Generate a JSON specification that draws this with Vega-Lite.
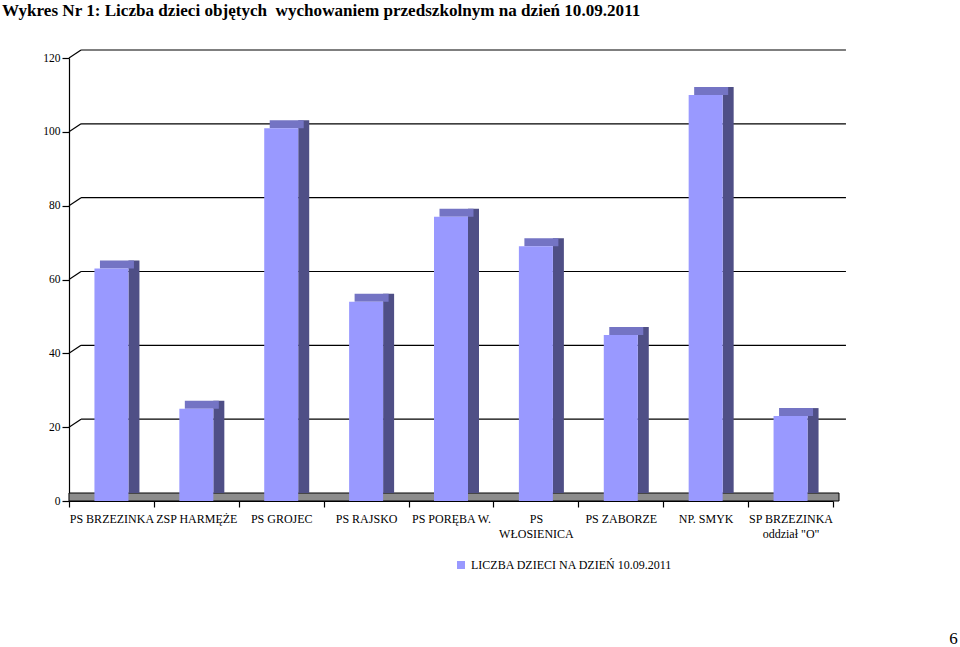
{
  "$schema": "https://vega.github.io/schema/vega-lite/v6.json",
  "width": 764,
  "height": 443,
  "autosize": {"type": "none"},
  "padding": {"left": 69, "top": 58, "right": 127, "bottom": 146},
  "background": "white",
  "config": {
    "font": "Liberation Serif",
    "view": {"stroke": null},
    "axis": {"labelFont": "Liberation Serif", "titleFont": "Liberation Serif", "labelColor": "black", "domainColor": "black", "tickColor": "black"},
    "legend": {"labelFont": "Liberation Serif"}
  },
  "title": {
    "text": "Wykres Nr 1: Liczba dzieci objętych\u00a0 wychowaniem przedszkolnym na dzień 10.09.2011",
    "anchor": "start",
    "frame": "group",
    "font": "Liberation Serif",
    "fontSize": 17.1,
    "fontWeight": "bold",
    "color": "black",
    "dx": -67,
    "offset": 30
  },
  "datasets": {
    "bars": [
      {"placowka": "PS BRZEZINKA", "liczba": 63, "seria": "LICZBA DZIECI NA DZIEŃ 10.09.2011"},
      {"placowka": "ZSP HARMĘŻE", "liczba": 25, "seria": "LICZBA DZIECI NA DZIEŃ 10.09.2011"},
      {"placowka": "PS GROJEC", "liczba": 101, "seria": "LICZBA DZIECI NA DZIEŃ 10.09.2011"},
      {"placowka": "PS RAJSKO", "liczba": 54, "seria": "LICZBA DZIECI NA DZIEŃ 10.09.2011"},
      {"placowka": "PS PORĘBA W.", "liczba": 77, "seria": "LICZBA DZIECI NA DZIEŃ 10.09.2011"},
      {"placowka": "PS\nWŁOSIENICA", "liczba": 69, "seria": "LICZBA DZIECI NA DZIEŃ 10.09.2011"},
      {"placowka": "PS ZABORZE", "liczba": 45, "seria": "LICZBA DZIECI NA DZIEŃ 10.09.2011"},
      {"placowka": "NP. SMYK", "liczba": 110, "seria": "LICZBA DZIECI NA DZIEŃ 10.09.2011"},
      {"placowka": "SP BRZEZINKA\noddział \"O\"", "liczba": 23, "seria": "LICZBA DZIECI NA DZIEŃ 10.09.2011"}
    ],
    "grid": [
      {"v": 0}, {"v": 20}, {"v": 40}, {"v": 60}, {"v": 80}, {"v": 100}, {"v": 120}
    ]
  },
  "layer": [
    {
      "data": {"values": [{"v": 0}]},
      "mark": {"type": "rect", "color": "#8c8c8c", "stroke": "black", "strokeWidth": 1, "xOffset": 6, "x2Offset": 6, "yOffset": -8},
      "encoding": {
        "y": {"field": "v", "type": "quantitative"},
        "y2": {"field": "v"}
      }
    },
    {
      "data": {"name": "grid"},
      "transform": [{"filter": "datum.v > 0"}],
      "mark": {"type": "rule", "color": "black", "strokeWidth": 1.2, "xOffset": -30.4, "x2Offset": 55.4, "yOffset": -8, "y2Offset": -8},
      "encoding": {
        "x": {
          "datum": "PS BRZEZINKA", "type": "nominal",
          "scale": {
            "domain": ["PS BRZEZINKA", "ZSP HARMĘŻE", "PS GROJEC", "PS RAJSKO", "PS PORĘBA W.", "PS\nWŁOSIENICA", "PS ZABORZE", "NP. SMYK", "SP BRZEZINKA\noddział \"O\""],
            "paddingInner": 0, "paddingOuter": 0
          }
        },
        "x2": {"datum": "SP BRZEZINKA\noddział \"O\""},
        "y": {"field": "v", "type": "quantitative", "scale": {"domain": [0, 120]}},
        "y2": {"field": "v"}
      }
    },
    {
      "data": {"name": "grid"},
      "transform": [{"filter": "datum.v > 0"}],
      "mark": {"type": "rule", "color": "black", "strokeWidth": 1.2, "xOffset": -42.45, "x2Offset": -30.4, "y2Offset": -8},
      "encoding": {
        "x": {"datum": "PS BRZEZINKA", "type": "nominal"},
        "x2": {"datum": "PS BRZEZINKA"},
        "y": {"field": "v", "type": "quantitative"},
        "y2": {"field": "v"}
      }
    },
    {
      "data": {"name": "bars"},
      "mark": {"type": "bar", "width": 11, "xOffset": 22.5, "yOffset": -8, "y2Offset": -4, "color": "#4f4f86"},
      "encoding": {
        "x": {"field": "placowka", "type": "nominal", "sort": null},
        "y": {"field": "liczba", "type": "quantitative"}
      }
    },
    {
      "data": {"name": "bars"},
      "mark": {"type": "bar", "width": 34, "xOffset": 5.5, "yOffset": -8, "color": "#7474c4"},
      "encoding": {
        "x": {"field": "placowka", "type": "nominal", "sort": null},
        "y": {"field": "liczba", "type": "quantitative"},
        "y2": {"field": "liczba"}
      }
    },
    {
      "data": {"name": "bars"},
      "mark": {"type": "bar", "width": 34},
      "encoding": {
        "x": {
          "field": "placowka", "type": "nominal", "sort": null,
          "axis": {
            "title": "6",
            "titleX": 884,
            "titleY": 137,
            "titleFontSize": 17,
            "titleFontWeight": "normal",
            "titleColor": "black",
            "titleAlign": "center",
            "titleBaseline": "middle",
            "labelAngle": 0,
            "labelAlign": "center",
            "labelFontSize": 12,
            "labelExpr": "split(datum.label, '\\n')",
            "labelLineHeight": 15,
            "labelPadding": 11,
            "tickSize": 6,
            "tickBand": "extent",
            "domainWidth": 1.2,
            "tickWidth": 1.2,
            "labelLimit": 0
          }
        },
        "y": {
          "field": "liczba", "type": "quantitative",
          "scale": {"domain": [0, 120], "nice": false},
          "axis": {
            "title": null,
            "values": [0, 20, 40, 60, 80, 100, 120],
            "grid": false,
            "labelFontSize": 11.5,
            "tickSize": 7,
            "labelPadding": 2,
            "domainWidth": 1.2,
            "tickWidth": 1.2
          }
        },
        "color": {
          "field": "seria", "type": "nominal",
          "scale": {"range": ["#9999ff"]},
          "legend": {
            "title": null,
            "orient": "none",
            "legendX": 386,
            "legendY": 501,
            "symbolType": "square",
            "symbolSize": 64,
            "symbolStrokeWidth": 0,
            "labelFontSize": 12,
            "labelLimit": 0,
            "labelColor": "black"
          }
        }
      }
    }
  ]
}
